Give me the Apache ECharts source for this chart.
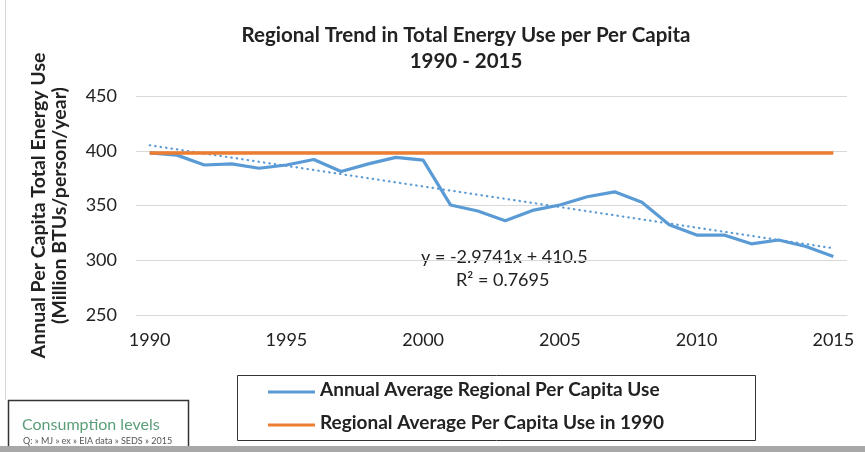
<!DOCTYPE html>
<html><head><meta charset="utf-8">
<script src="https://cdn.jsdelivr.net/npm/echarts@6/dist/echarts.min.js"></script>
<style>html,body{margin:0;padding:0;background:#fff}#c{width:865px;height:452px}</style>
</head><body><div id="c"></div>
<script>
const years = ["1990","1991","1992","1993","1994","1995","1996","1997","1998","1999","2000","2001","2002","2003","2004","2005","2006","2007","2008","2009","2010","2011","2012","2013","2014","2015"];
const perCapita = [398,396,387,388,384,387,392,381,388,394,391.5,350.5,345,336,345.5,350.5,358,362.5,353,332.5,323,323,315,318.5,312.5,303.5];
const baseline1990 = 398;
const trendYears = ["1990", "2015"];
const trendValues = [405, 311];
const yTicks = [250, 300, 350, 400, 450];
const titleText = "Regional Trend in Total Energy Use per Per Capita\n1990 - 2015";
const yName = "Annual Per Capita Total Energy Use\n(Million BTUs/person/year)";
const seriesNames = ["Annual Average Regional Per Capita Use", "Regional Average Per Capita Use in 1990"];
const equation = "y = -2.9741x + 410.5";
const rSquared = "R² = 0.7695";
const noteTitle = "Consumption levels";
const noteSub = "Q: » MJ » ex » EIA data » SEDS » 2015";

const font = "Lato, 'Open Sans', sans-serif";
const chart = echarts.init(document.getElementById('c'));
chart.setOption({
  animation: false,
  title: {
    text: titleText, left: 461, top: 17, textAlign: 'center',
    textStyle: {fontFamily: font, fontSize: 20.5, fontWeight: 'bold', color: '#222', lineHeight: 26}
  },
  grid: {left: 136, right: 18, top: 96, bottom: 137},
  xAxis: {
    type: 'category', data: years, boundaryGap: true,
    axisLine: {show: true, lineStyle: {color: '#d9d9d9'}},
    axisTick: {show: false}, splitLine: {show: false},
    axisLabel: {interval: 4, fontFamily: font, fontSize: 18, color: '#222', margin: 16}
  },
  yAxis: {
    type: 'value', min: yTicks[0], max: yTicks[yTicks.length-1], interval: 50,
    name: yName, nameLocation: 'middle', nameGap: 66, nameRotate: 90,
    nameTextStyle: {fontFamily: font, fontSize: 19.5, fontWeight: 'bold', color: '#222', lineHeight: 21},
    axisLine: {show: false}, axisTick: {show: false},
    splitLine: {lineStyle: {color: '#d9d9d9'}},
    axisLabel: {fontFamily: font, fontSize: 18, color: '#222', margin: 19}
  },
  legend: {show: false},
  series: [
    {name: seriesNames[0], type: 'line', data: perCapita,
     showSymbol: false, lineStyle: {color: '#5b9bd5', width: 3.2}, itemStyle: {color: '#5b9bd5'}, z: 3},
    {name: seriesNames[1], type: 'line', data: [[trendYears[0], baseline1990],[trendYears[1], baseline1990]],
     showSymbol: false, lineStyle: {color: '#ed7d31', width: 3.5}, itemStyle: {color: '#ed7d31'}, z: 4},
    {name: 'trend', type: 'line', data: trendYears.map((y,i)=>[y, trendValues[i]]),
     showSymbol: false, lineStyle: {color: '#5b9bd5', width: 2.2, type: [0.5, 5], cap: 'round'}, z: 2}
  ],
  graphic: [
    {type: 'line', shape: {x1: 5.5, y1: 0, x2: 5.5, y2: 400}, style: {stroke: '#d6d6d6', lineWidth: 1}},
    {type: 'text', left: 421, top: 248, style: {text: equation, font: "18px " + font, fill: '#222'}},
    {type: 'text', left: 456, top: 271, style: {text: rSquared, font: "18px " + font, fill: '#222'}},
    {type: 'rect', shape: {x: 237.5, y: 375.5, width: 518, height: 65}, style: {fill: 'none', stroke: '#333', lineWidth: 1}},
    {type: 'line', shape: {x1: 268, y1: 392, x2: 315, y2: 392}, style: {stroke: '#5b9bd5', lineWidth: 3}},
    {type: 'text', left: 320, top: 380, style: {text: seriesNames[0], font: "bold 19px " + font, fill: '#222'}},
    {type: 'line', shape: {x1: 268, y1: 425, x2: 315, y2: 425}, style: {stroke: '#ed7d31', lineWidth: 3}},
    {type: 'text', left: 320, top: 413, style: {text: seriesNames[1], font: "bold 19px " + font, fill: '#222'}},
    {type: 'rect', shape: {x: 8.5, y: 400.5, width: 180, height: 60}, style: {fill: '#fff', stroke: '#333', lineWidth: 1.5}},
    {type: 'text', left: 22, top: 417, style: {text: noteTitle, font: "16px " + font, fill: '#5a9e78'}},
    {type: 'text', left: 23, top: 437, style: {text: noteSub, font: "9px " + font, fill: '#555'}},
    {type: 'rect', shape: {x: 0, y: 446, width: 865, height: 6}, style: {fill: '#a8a8a8'}}
  ]
});
</script></body></html>
